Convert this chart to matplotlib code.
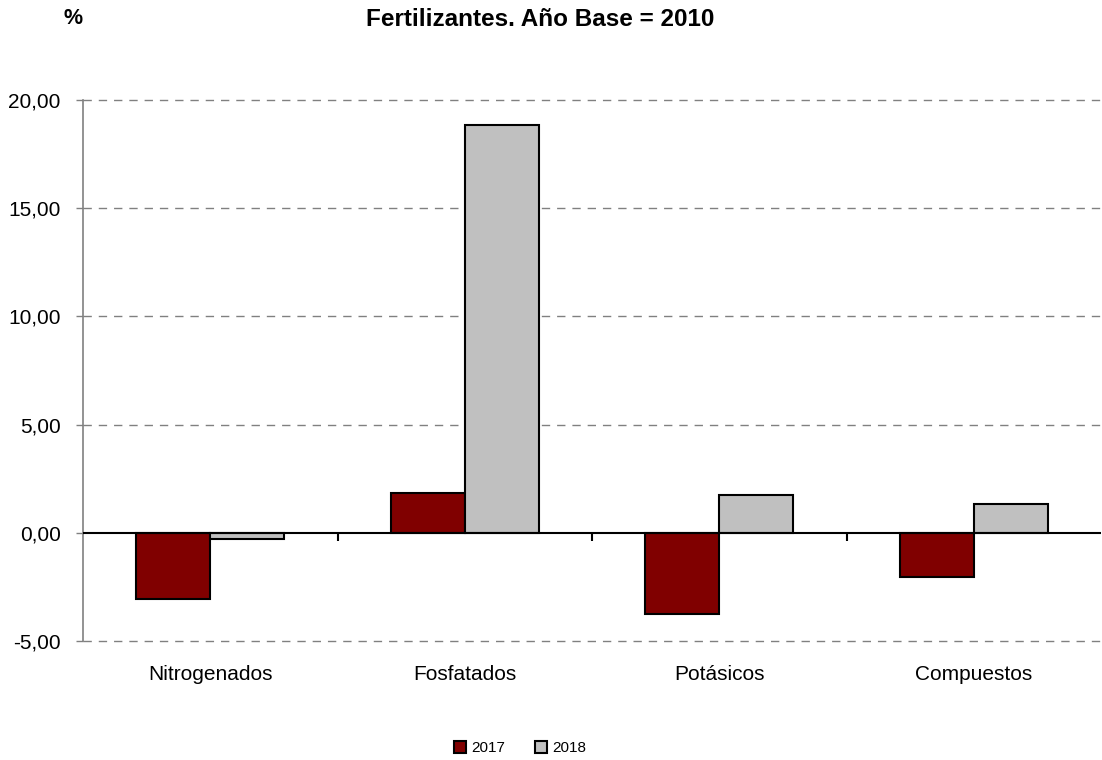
import matplotlib
matplotlib.use("Agg")
import matplotlib.pyplot as plt
import numpy as np

categories = ["Nitrogenados", "Fosfatados", "Potásicos", "Compuestos"]
series_names = ["2017", "2018"]
values_2017 = [-3.05, 1.86, -3.73, -2.05]
values_2018 = [-0.27, 18.85, 1.76, 1.31]
yticks = [-5, 0, 5, 10, 15, 20]
colors = ["#800000", "#C0C0C0"]

plt.rcParams['font.family'] = ['Liberation Sans', 'DejaVu Sans']

W, H = 1102, 760
fig = plt.figure(figsize=(W / 100, H / 100), dpi=100)
ax = fig.add_axes([83 / W, 1 - 641 / H, (1101 - 83) / W, (641 - 100) / H])

x = np.arange(len(categories))
w = 0.29
ax.bar(x - w / 2, values_2017, w, color=colors[0], edgecolor="black", linewidth=1.5, label=series_names[0], zorder=3)
ax.bar(x + w / 2, values_2018, w, color=colors[1], edgecolor="black", linewidth=1.5, label=series_names[1], zorder=3)

ax.set_xlim(-0.5, len(categories) - 0.5)
ax.set_ylim(-5, 20)
ax.set_yticks(yticks)
ax.set_yticklabels([f"{v:.2f}".replace(".", ",") for v in yticks], fontsize=15)
for v in yticks:
    if v != 0:
        ax.axhline(v, color="#808080", linestyle=(0, (6, 5)), linewidth=1, zorder=1, clip_on=False)
ax.axhline(0, color="black", linewidth=1.5, zorder=4)

ax.set_xticks(x)
ax.set_xticklabels(categories, fontsize=15)
ax.tick_params(axis="x", length=0, pad=17)
ax.tick_params(axis="y", length=5, width=1, color="#808080", pad=11, direction="out")

for s in ["top", "right", "bottom"]:
    ax.spines[s].set_visible(False)
ax.spines["left"].set_color("#808080")
ax.spines["left"].set_linewidth(1.2)

# category tick marks on the zero line
sec = ax.secondary_xaxis(0.2)
sec.set_xticks(np.arange(len(categories) - 1) + 0.5)
sec.set_xticklabels([])
sec.tick_params(length=6, width=1.5, color="black", direction="out")
sec.spines["bottom"].set_visible(False)

fig.text(540 / W, 1 - 20 / H, "Fertilizantes. Año Base = 2010", ha="center", va="center",
         fontsize=17.5, fontweight="bold")
fig.text(73 / W, 1 - 18 / H, "%", ha="center", va="center", fontsize=15.5, fontweight="bold")

fig.legend(loc="center", bbox_to_anchor=(520 / W, 1 - 748 / H), ncol=2, frameon=False,
           fontsize=11, handlelength=0.8, handleheight=0.8, columnspacing=2.0, handletextpad=0.3)

fig.savefig("out.png", dpi=100)
